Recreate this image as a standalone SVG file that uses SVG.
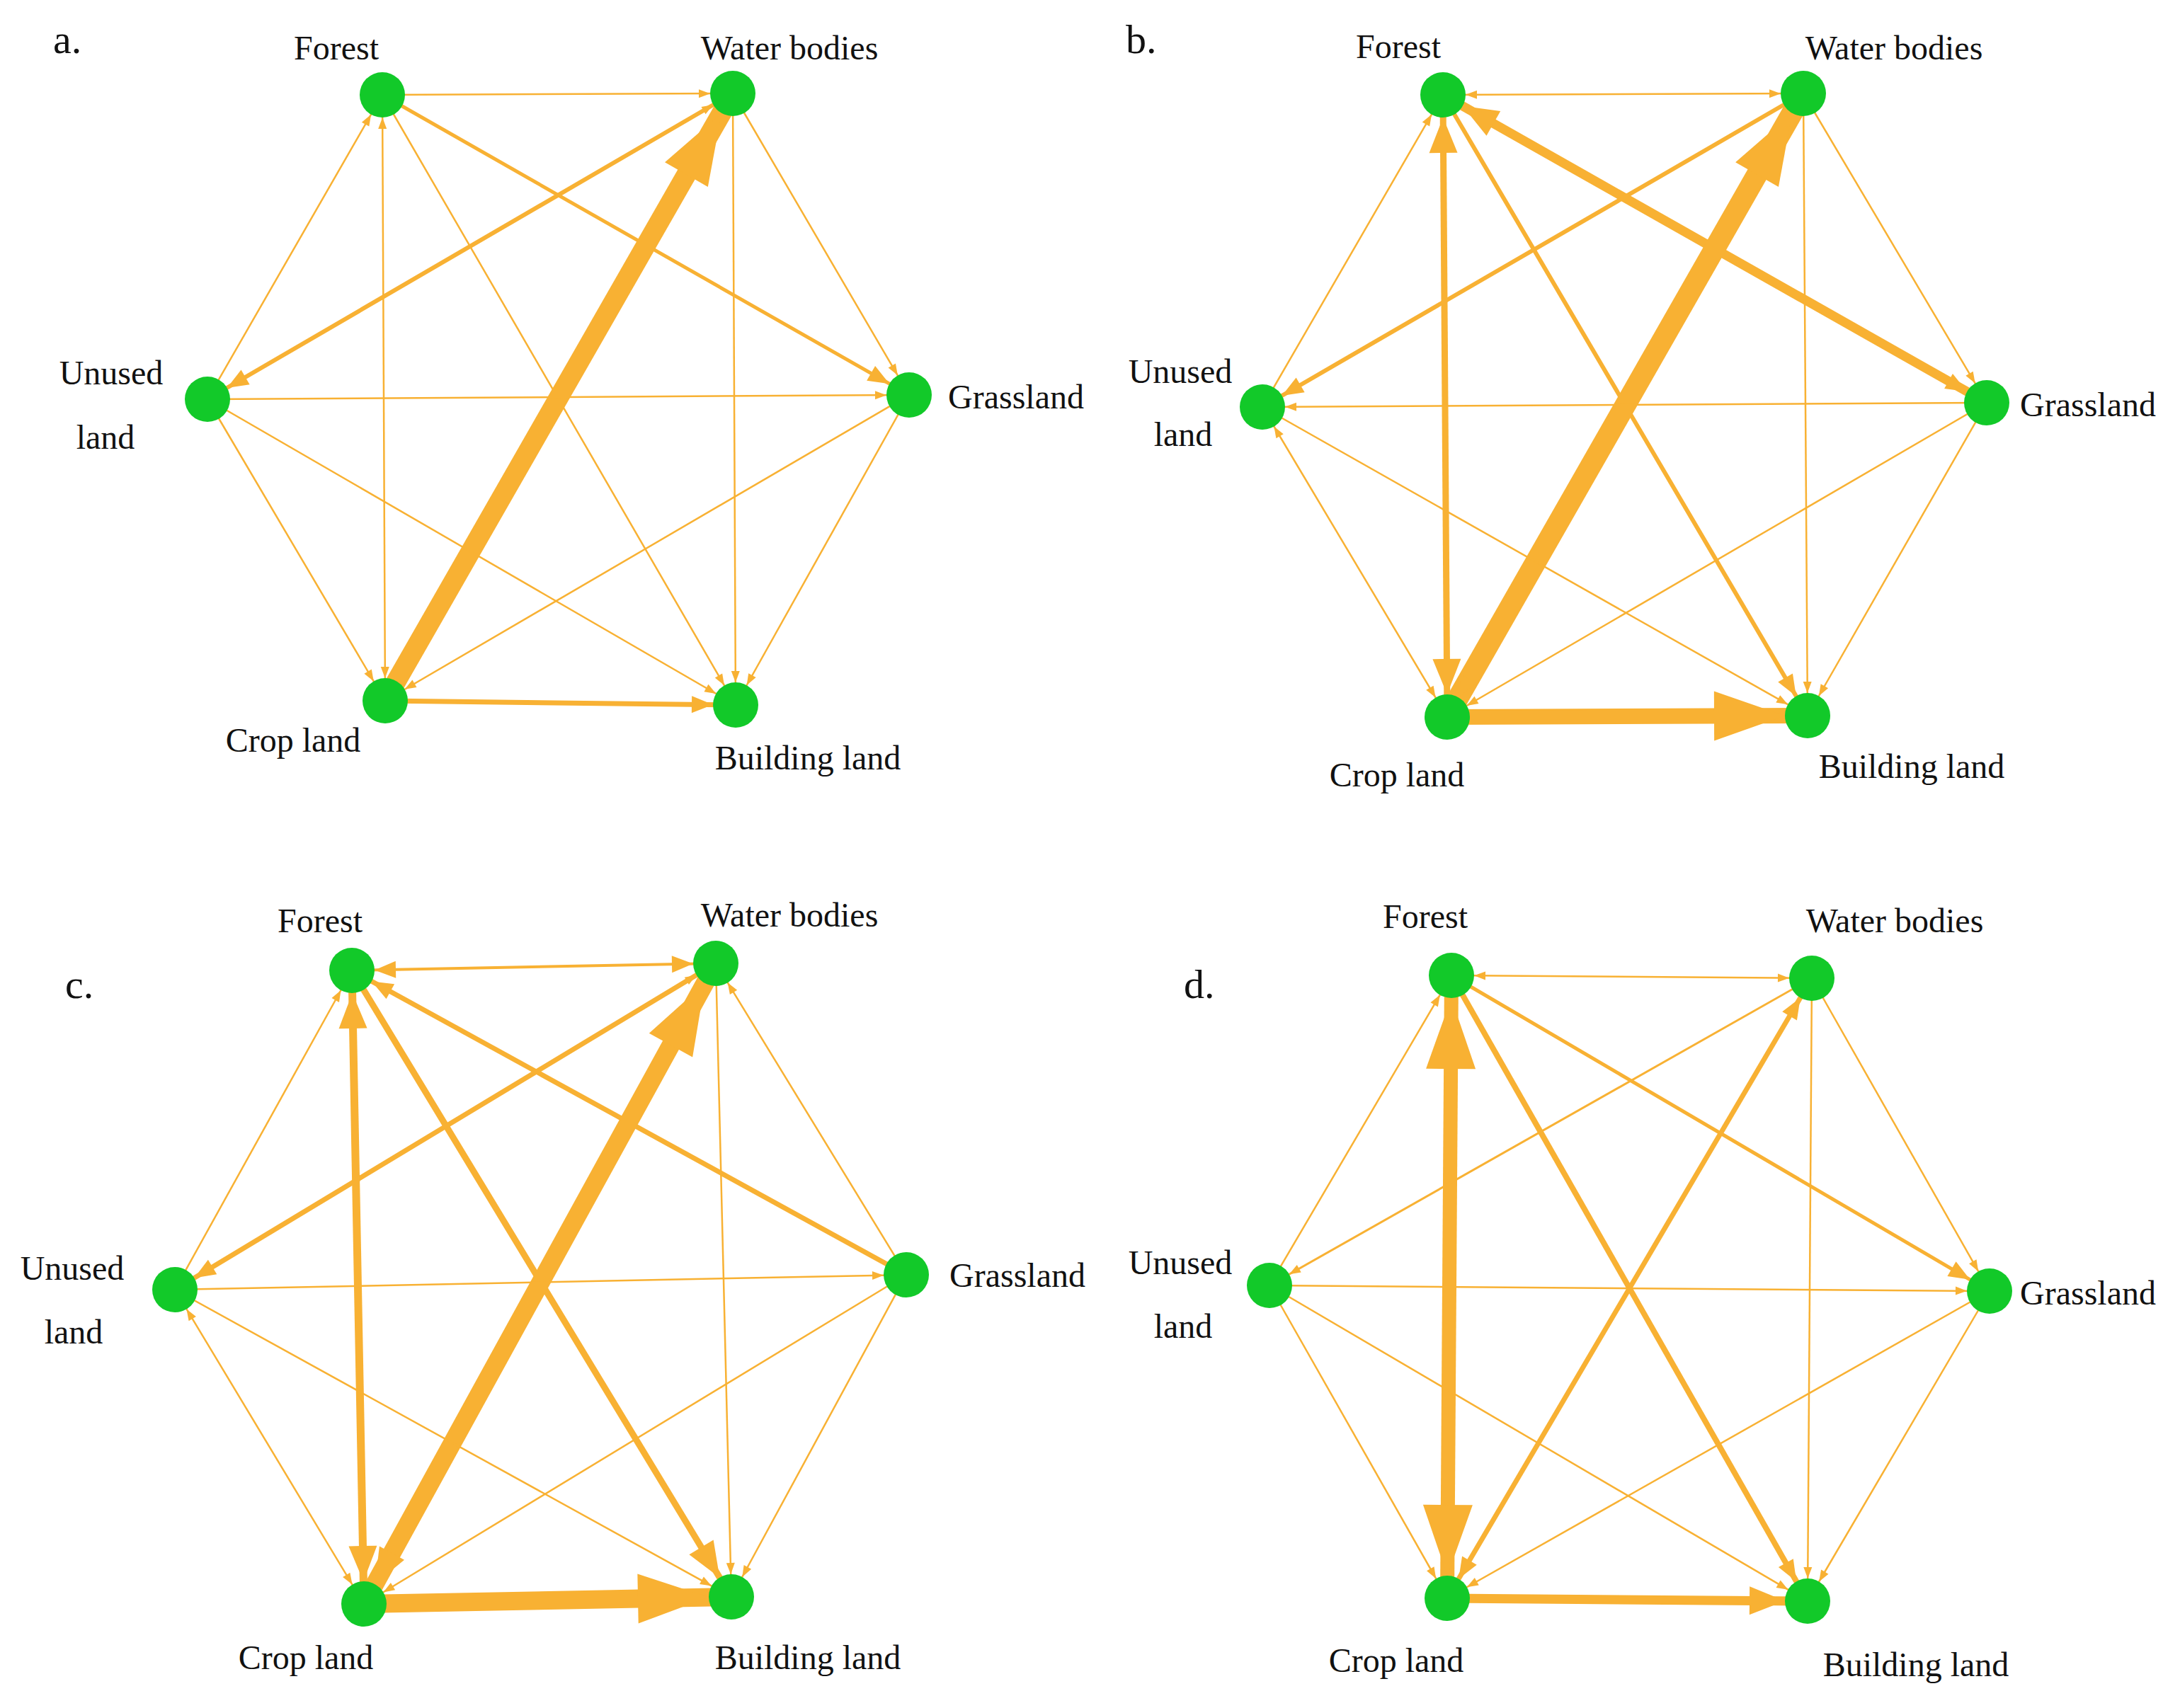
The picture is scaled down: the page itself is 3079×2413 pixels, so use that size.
<svg xmlns="http://www.w3.org/2000/svg" width="3079" height="2413" viewBox="0 0 3079 2413">
<style>
.e{stroke:#F8B133;fill:none;stroke-linecap:butt}
.t{stroke-width:2.5}
.n{fill:#12C929}
text{font-family:"Liberation Serif","Times New Roman",serif;font-size:48px;fill:#111;text-anchor:middle;dominant-baseline:central}
.p{font-size:58px;text-anchor:start}
</style>
<defs>
<marker id="S" markerUnits="userSpaceOnUse" viewBox="0 0 16 12" markerWidth="16" markerHeight="12" refX="48" refY="6" orient="auto-start-reverse" overflow="visible"><path d="M0,0L16,6L0,12z" fill="#F8B133"/></marker>
<marker id="M" markerUnits="userSpaceOnUse" viewBox="0 0 30 24" markerWidth="30" markerHeight="24" refX="62" refY="12" orient="auto-start-reverse" overflow="visible"><path d="M0,0L30,12L0,24z" fill="#F8B133"/></marker>
<marker id="L" markerUnits="userSpaceOnUse" viewBox="0 0 50 40" markerWidth="50" markerHeight="40" refX="82" refY="20" orient="auto-start-reverse" overflow="visible"><path d="M0,0L50,20L0,40z" fill="#F8B133"/></marker>
<marker id="X" markerUnits="userSpaceOnUse" viewBox="0 0 100 70" markerWidth="100" markerHeight="70" refX="132" refY="35" orient="auto-start-reverse" overflow="visible"><path d="M0,0L100,35L0,70z" fill="#F8B133"/></marker>
</defs>
<rect width="3079" height="2413" fill="#fff"/>
<g id="connectors">
<line class="e t" x1="540" y1="134" x2="1035" y2="132" marker-end="url(#S)"/>
<line class="e" stroke-width="5" x1="540" y1="134" x2="1284" y2="558" marker-end="url(#M)"/>
<line class="e t" x1="293" y1="564" x2="540" y2="134" marker-end="url(#S)"/>
<line class="e t" x1="540" y1="134" x2="544" y2="990" marker-start="url(#S)" marker-end="url(#S)"/>
<line class="e t" x1="540" y1="134" x2="1039" y2="996" marker-end="url(#S)"/>
<line class="e" stroke-width="6" x1="1035" y1="132" x2="293" y2="564" marker-start="url(#S)" marker-end="url(#M)"/>
<line class="e t" x1="1035" y1="132" x2="1284" y2="558" marker-end="url(#S)"/>
<line class="e" stroke-width="28" x1="544" y1="990" x2="1035" y2="132" marker-end="url(#X)"/>
<line class="e t" x1="1035" y1="132" x2="1039" y2="996" marker-end="url(#S)"/>
<line class="e t" x1="293" y1="564" x2="1284" y2="558" marker-end="url(#S)"/>
<line class="e t" x1="293" y1="564" x2="544" y2="990" marker-end="url(#S)"/>
<line class="e t" x1="293" y1="564" x2="1039" y2="996" marker-end="url(#S)"/>
<line class="e t" x1="1284" y1="558" x2="544" y2="990" marker-end="url(#S)"/>
<line class="e t" x1="1284" y1="558" x2="1039" y2="996" marker-end="url(#S)"/>
<line class="e" stroke-width="7" x1="544" y1="990" x2="1039" y2="996" marker-end="url(#M)"/>
<line class="e t" x1="2038" y1="134" x2="2547" y2="132" marker-start="url(#S)" marker-end="url(#S)"/>
<line class="e" stroke-width="13" x1="2806" y1="569" x2="2038" y2="134" marker-start="url(#M)" marker-end="url(#L)"/>
<line class="e t" x1="1783" y1="575" x2="2038" y2="134" marker-end="url(#S)"/>
<line class="e" stroke-width="9" x1="2038" y1="134" x2="2044" y2="1013" marker-start="url(#L)" marker-end="url(#L)"/>
<line class="e" stroke-width="6" x1="2038" y1="134" x2="2553" y2="1011" marker-end="url(#M)"/>
<line class="e" stroke-width="6" x1="2547" y1="132" x2="1783" y2="575" marker-end="url(#M)"/>
<line class="e t" x1="2547" y1="132" x2="2806" y2="569" marker-end="url(#S)"/>
<line class="e" stroke-width="30" x1="2044" y1="1013" x2="2547" y2="132" marker-start="url(#M)" marker-end="url(#X)"/>
<line class="e t" x1="2547" y1="132" x2="2553" y2="1011" marker-end="url(#S)"/>
<line class="e t" x1="2806" y1="569" x2="1783" y2="575" marker-end="url(#S)"/>
<line class="e t" x1="1783" y1="575" x2="2044" y2="1013" marker-start="url(#S)" marker-end="url(#S)"/>
<line class="e t" x1="1783" y1="575" x2="2553" y2="1011" marker-end="url(#S)"/>
<line class="e t" x1="2806" y1="569" x2="2044" y2="1013" marker-end="url(#S)"/>
<line class="e t" x1="2806" y1="569" x2="2553" y2="1011" marker-end="url(#S)"/>
<line class="e" stroke-width="22" x1="2044" y1="1013" x2="2553" y2="1011" marker-end="url(#X)"/>
<line class="e" stroke-width="4" x1="497" y1="1371" x2="1011" y2="1361" marker-start="url(#M)" marker-end="url(#M)"/>
<line class="e" stroke-width="7" x1="1280" y1="1801" x2="497" y2="1371" marker-end="url(#M)"/>
<line class="e t" x1="247" y1="1822" x2="497" y2="1371" marker-end="url(#S)"/>
<line class="e" stroke-width="11" x1="497" y1="1371" x2="514" y2="2266" marker-start="url(#L)" marker-end="url(#L)"/>
<line class="e" stroke-width="9" x1="497" y1="1371" x2="1033" y2="2256" marker-end="url(#L)"/>
<line class="e" stroke-width="7" x1="1011" y1="1361" x2="247" y2="1822" marker-start="url(#S)" marker-end="url(#M)"/>
<line class="e t" x1="1280" y1="1801" x2="1011" y2="1361" marker-end="url(#S)"/>
<line class="e" stroke-width="26" x1="514" y1="2266" x2="1011" y2="1361" marker-start="url(#L)" marker-end="url(#X)"/>
<line class="e t" x1="1011" y1="1361" x2="1033" y2="2256" marker-end="url(#S)"/>
<line class="e t" x1="247" y1="1822" x2="1280" y2="1801" marker-end="url(#S)"/>
<line class="e t" x1="247" y1="1822" x2="514" y2="2266" marker-start="url(#S)" marker-end="url(#S)"/>
<line class="e t" x1="247" y1="1822" x2="1033" y2="2256" marker-end="url(#S)"/>
<line class="e t" x1="1280" y1="1801" x2="514" y2="2266" marker-end="url(#S)"/>
<line class="e t" x1="1280" y1="1801" x2="1033" y2="2256" marker-end="url(#S)"/>
<line class="e" stroke-width="26" x1="514" y1="2266" x2="1033" y2="2256" marker-end="url(#X)"/>
<line class="e t" x1="2050" y1="1378" x2="2559" y2="1382" marker-start="url(#S)" marker-end="url(#S)"/>
<line class="e" stroke-width="5" x1="2050" y1="1378" x2="2810" y2="1824" marker-end="url(#M)"/>
<line class="e t" x1="1793" y1="1816" x2="2050" y2="1378" marker-end="url(#S)"/>
<line class="e" stroke-width="20" x1="2050" y1="1378" x2="2044" y2="2258" marker-start="url(#X)" marker-end="url(#X)"/>
<line class="e" stroke-width="8" x1="2050" y1="1378" x2="2553" y2="2262" marker-end="url(#M)"/>
<line class="e" stroke-width="3" x1="2559" y1="1382" x2="1793" y2="1816" marker-end="url(#S)"/>
<line class="e t" x1="2559" y1="1382" x2="2810" y2="1824" marker-end="url(#S)"/>
<line class="e" stroke-width="7" x1="2044" y1="2258" x2="2559" y2="1382" marker-start="url(#M)" marker-end="url(#M)"/>
<line class="e t" x1="2559" y1="1382" x2="2553" y2="2262" marker-end="url(#S)"/>
<line class="e t" x1="1793" y1="1816" x2="2810" y2="1824" marker-end="url(#S)"/>
<line class="e t" x1="1793" y1="1816" x2="2044" y2="2258" marker-end="url(#S)"/>
<line class="e t" x1="1793" y1="1816" x2="2553" y2="2262" marker-end="url(#S)"/>
<line class="e t" x1="2810" y1="1824" x2="2044" y2="2258" marker-end="url(#S)"/>
<line class="e t" x1="2810" y1="1824" x2="2553" y2="2262" marker-end="url(#S)"/>
<line class="e" stroke-width="13" x1="2044" y1="2258" x2="2553" y2="2262" marker-start="url(#S)" marker-end="url(#L)"/>
</g>
<g id="labels">
<text class="p" x="75" y="55">a.</text>
<text class="p" x="1590" y="55">b.</text>
<text class="p" x="92" y="1390">c.</text>
<text class="p" x="1672" y="1390">d.</text>
</g>
<g id="a-forest"><circle class="n" cx="540" cy="134" r="32"/><text x="475" y="67">Forest</text></g>
<g id="a-water"><circle class="n" cx="1035" cy="132" r="32"/><text x="1115" y="67">Water bodies</text></g>
<g id="a-unused"><circle class="n" cx="293" cy="564" r="32"/><text x="157" y="526">Unused</text><text x="149" y="617">land</text></g>
<g id="a-grass"><circle class="n" cx="1284" cy="558" r="32"/><text x="1435" y="560">Grassland</text></g>
<g id="a-crop"><circle class="n" cx="544" cy="990" r="32"/><text x="414" y="1045">Crop land</text></g>
<g id="a-building"><circle class="n" cx="1039" cy="996" r="32"/><text x="1141" y="1070">Building land</text></g>
<g id="b-forest"><circle class="n" cx="2038" cy="134" r="32"/><text x="1975" y="65">Forest</text></g>
<g id="b-water"><circle class="n" cx="2547" cy="132" r="32"/><text x="2675" y="67">Water bodies</text></g>
<g id="b-unused"><circle class="n" cx="1783" cy="575" r="32"/><text x="1667" y="524">Unused</text><text x="1671" y="613">land</text></g>
<g id="b-grass"><circle class="n" cx="2806" cy="569" r="32"/><text x="2949" y="571">Grassland</text></g>
<g id="b-crop"><circle class="n" cx="2044" cy="1013" r="32"/><text x="1973" y="1094">Crop land</text></g>
<g id="b-building"><circle class="n" cx="2553" cy="1011" r="32"/><text x="2700" y="1082">Building land</text></g>
<g id="c-forest"><circle class="n" cx="497" cy="1371" r="32"/><text x="452" y="1300">Forest</text></g>
<g id="c-water"><circle class="n" cx="1011" cy="1361" r="32"/><text x="1115" y="1292">Water bodies</text></g>
<g id="c-unused"><circle class="n" cx="247" cy="1822" r="32"/><text x="102" y="1791">Unused</text><text x="104" y="1881">land</text></g>
<g id="c-grass"><circle class="n" cx="1280" cy="1801" r="32"/><text x="1437" y="1801">Grassland</text></g>
<g id="c-crop"><circle class="n" cx="514" cy="2266" r="32"/><text x="432" y="2341">Crop land</text></g>
<g id="c-building"><circle class="n" cx="1033" cy="2256" r="32"/><text x="1141" y="2341">Building land</text></g>
<g id="d-forest"><circle class="n" cx="2050" cy="1378" r="32"/><text x="2013" y="1294">Forest</text></g>
<g id="d-water"><circle class="n" cx="2559" cy="1382" r="32"/><text x="2676" y="1300">Water bodies</text></g>
<g id="d-unused"><circle class="n" cx="1793" cy="1816" r="32"/><text x="1667" y="1783">Unused</text><text x="1671" y="1873">land</text></g>
<g id="d-grass"><circle class="n" cx="2810" cy="1824" r="32"/><text x="2949" y="1826">Grassland</text></g>
<g id="d-crop"><circle class="n" cx="2044" cy="2258" r="32"/><text x="1972" y="2345">Crop land</text></g>
<g id="d-building"><circle class="n" cx="2553" cy="2262" r="32"/><text x="2706" y="2351">Building land</text></g>
</svg>
